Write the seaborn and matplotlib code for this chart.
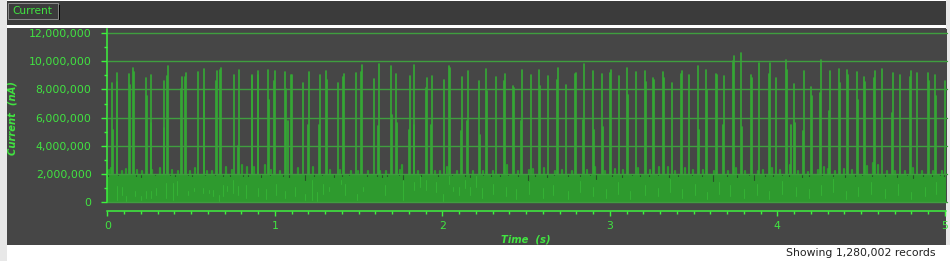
import numpy as np
import pandas as pd
import matplotlib
matplotlib.use("Agg")
import matplotlib.pyplot as plt
import seaborn as sns
from matplotlib.patches import Rectangle
from matplotlib.ticker import FuncFormatter, MultipleLocator

# ---------------- data ----------------
series_name = "Current"
x_label = "Time  (s)"
y_label = "Current  (nA)"
status_text = "Showing 1,280,002 records"
x_ticks = [0, 1, 2, 3, 4, 5]
y_ticks = [0, 2_000_000, 4_000_000, 6_000_000, 8_000_000, 10_000_000, 12_000_000]

# level of the dense noise band (nA)
band_level = 2_000_000

# spike lines: time (s), peak (millions of nA)
spike_t = [0.0300, 0.0340, 0.0559, 0.0599, 0.1315, 0.1355, 0.1554, 0.1594, 0.2330, 0.2370,
           0.2589, 0.2629, 0.3365, 0.3405, 0.3564, 0.3644, 0.4400, 0.4440, 0.4639, 0.4699,
           0.5435, 0.5754, 0.5793, 0.6509, 0.6569, 0.6748, 0.6808, 0.7584, 0.7823, 0.7882,
           0.8619, 0.8659, 0.8977, 0.9017, 0.9614, 0.9654, 0.9972, 1.0032, 1.0629, 1.0688,
           1.0788, 1.0987, 1.1047, 1.1703, 1.2002, 1.2061, 1.2658, 1.2718, 1.3057, 1.3136,
           1.3793, 1.4091, 1.4151, 1.4867, 1.5166, 1.5226, 1.5942, 1.6181, 1.6241,
           1.6957, 1.6977, 1.7256, 1.7315, 1.8032, 1.8091, 1.8291, 1.8330, 1.9047, 1.9106,
           1.9345, 1.9405, 2.0121, 2.0420, 2.0479, 2.1136, 2.1196, 2.1475, 2.1534, 2.2211,
           2.2270, 2.2629, 2.2688, 2.3226, 2.3703, 2.3763, 2.4221, 2.4281, 2.4718, 2.4778,
           2.5315, 2.5793, 2.5852, 2.6330, 2.6867, 2.6927, 2.7405, 2.7942, 2.8002, 2.8420,
           2.8480, 2.9017, 2.9076, 2.9554, 2.9614, 3.0032, 3.0091, 3.0569, 3.1047, 3.1106,
           3.1584, 3.2121, 3.2181, 3.2599, 3.2659, 3.3196, 3.3256,
           3.3733, 3.4270, 3.4330, 3.4748, 3.5285, 3.5325, 3.5763, 3.5822, 3.6360, 3.6419,
           3.6778, 3.6837, 3.7375, 3.7434, 3.7852, 3.7912, 3.8449, 3.8509, 3.8927, 3.9524,
           3.9584, 3.9942, 4.0539, 4.0599, 4.0838, 4.1017, 4.1077, 4.1554, 4.1614,
           4.2032, 4.2091, 4.2569, 4.2629, 4.3107, 4.3166, 4.3704, 4.3763, 4.4181, 4.4241,
           4.4778, 4.4838, 4.5196, 4.5256, 4.5793, 4.5853, 4.6271, 4.6867, 4.6927, 4.7345,
           4.7942, 4.8001, 4.8360, 4.9016, 4.9076, 4.9434, 4.9493, 5.0030]
spike_v = [8.46, 5.10, 8.53, 9.17, 9.10, 8.34, 9.52, 9.24, 8.82, 7.51,
           5.62, 9.05, 5.26, 8.63, 8.93, 9.69, 8.06, 8.86, 8.86, 9.17,
           9.24, 8.06, 9.45, 8.63, 9.34, 9.41, 9.52, 9.05, 3.96, 9.41,
           9.00, 8.93, 9.29, 9.00, 9.38, 7.27, 8.63, 9.29, 9.24, 8.06,
           5.73, 9.00, 9.00, 8.46, 5.50, 9.24, 5.50, 9.05, 9.29, 8.70,
           8.46, 8.86, 9.10, 9.17, 9.24, 9.72, 8.74, 5.38, 9.81,
           9.64, 6.20, 9.10, 5.60, 5.14, 8.93, 5.50, 9.72, 8.10, 8.82,
           5.50, 8.93, 8.70, 9.64, 9.52, 5.02, 8.86, 5.78, 9.29, 8.63,
           4.79, 9.45, 7.87, 8.86, 8.63, 9.10, 8.22, 8.10, 5.78, 9.41,
           9.00, 9.38, 8.22, 8.93, 8.70, 9.52, 8.29, 9.10, 9.17, 5.85,
           9.81, 9.34, 5.14, 9.10, 5.31, 9.17, 9.38, 8.93, 9.52, 7.63,
           9.24, 9.34, 8.53, 8.82, 8.70, 9.24, 8.82,
           8.46, 9.10, 9.29, 9.00, 9.64, 5.14, 9.38, 7.99, 9.10, 9.00,
           5.50, 8.93, 10.00, 10.38, 10.59, 5.31, 9.00, 8.82, 9.88, 9.10,
           9.88, 8.82, 10.10, 9.38, 5.50, 8.39, 5.62, 5.02, 9.34,
           8.15, 7.51, 7.75, 10.10, 6.45, 9.29, 9.45, 8.46, 9.38, 9.05,
           9.24, 7.27, 8.86, 8.53, 8.82, 9.29, 9.45, 6.33, 9.17, 9.05,
           8.86, 9.29, 9.17, 9.17, 8.58, 9.05, 7.51, 8.63]

# bumps poking above the noise band: time (s), top (millions of nA)
bump_t = [0.002, 0.010, 0.022, 0.086, 0.110, 0.177, 0.209, 0.269, 0.315, 0.384, 0.424, 0.494,
          0.524, 0.593, 0.623, 0.707, 0.743, 0.802,
          0.832, 0.878, 0.941, 0.977, 1.031, 1.140, 1.230, 1.330, 1.389, 1.455, 1.499, 1.558, 1.628,
          1.662, 1.747, 1.761, 1.857, 1.956, 1.986, 2.030, 2.086, 2.185, 2.245, 2.304, 2.384, 2.454,
          2.518, 2.543, 2.609, 2.673, 2.713, 2.773, 2.862, 2.912, 2.971, 3.031, 3.081, 3.170, 3.240, 3.294,
          3.346, 3.389, 3.449, 3.499, 3.558, 3.624, 3.704, 3.752, 3.807, 3.883, 3.917, 3.967, 4.016,
          4.076, 4.126,
          4.181, 4.245, 4.281, 4.305, 4.345, 4.400, 4.444, 4.534, 4.570, 4.603, 4.653, 4.703, 4.762,
          4.812, 4.862, 4.931, 4.982]
bump_v = [2.23, 2.30, 2.42, 2.23, 2.37, 2.30, 2.23, 2.30, 2.42, 2.30, 2.23, 2.23,
          2.42, 2.23, 2.18, 2.46, 2.30, 2.60,
          2.46, 2.46, 2.65, 2.30, 2.23, 2.42, 2.46, 2.30, 2.30, 2.23, 2.18, 2.23, 2.23,
          2.23, 2.30, 2.60, 2.18, 2.23, 2.23, 2.46, 2.23, 2.23, 2.18, 2.18, 2.60, 2.18,
          2.30, 2.37, 2.42, 2.18, 2.30, 2.23, 2.30, 2.46, 2.23, 2.37, 2.30, 2.42, 2.30, 2.46,
          2.46, 2.23, 2.42, 2.30, 2.30, 2.23, 2.23, 2.42, 2.18, 2.23, 2.30, 2.42, 2.30,
          2.65, 2.23,
          2.13, 2.30, 2.46, 2.37, 2.23, 2.37, 2.30, 2.54, 2.77, 2.65, 2.18, 2.18, 2.23,
          2.42, 2.18, 2.23, 2.18]

# dark gaps reaching down into the band: time (s), bottom (millions of nA)
notch_t = [0.002, 0.063, 0.169, 0.201, 0.285, 0.374, 0.404, 0.484, 0.508, 0.583, 0.643, 0.692,
           0.734, 0.812, 0.842, 0.918, 0.971, 1.051, 1.085, 1.181, 1.236, 1.284, 1.356, 1.400,
           1.443, 1.549, 1.609, 1.639, 1.668, 1.741, 1.767, 1.873, 1.973, 2.056, 2.136, 2.166,
           2.240, 2.291, 2.345, 2.391, 2.451, 2.510, 2.554, 2.624, 2.669, 2.753, 2.823, 2.882,
           2.916, 3.016, 3.072, 3.131, 3.181, 3.231, 3.286, 3.353, 3.405, 3.493, 3.548, 3.618,
           3.698, 3.757, 3.831, 3.863, 3.926, 3.976, 4.026, 4.070, 4.145, 4.189, 4.269, 4.334,
           4.404, 4.464, 4.508, 4.563, 4.643, 4.713, 4.772, 4.812, 4.872, 4.922, 4.971, 4.998]
notch_v = [1.82, 1.90, 1.82, 1.75, 1.90, 1.90, 1.85, 1.90, 1.82, 1.90, 1.90, 1.82,
           1.82, 1.82, 1.85, 1.80, 1.90, 1.85, 1.80, 1.59, 1.85, 1.90, 1.80, 1.85,
           1.90, 1.82, 1.85, 1.75, 1.85, 1.90, 1.59, 1.85, 1.82, 1.90, 1.85, 1.80,
           1.90, 1.85, 1.82, 1.90, 1.85, 1.59, 1.85, 1.80, 1.90, 1.82, 1.85, 1.90,
           1.66, 1.85, 1.80, 1.90, 1.85, 1.82, 1.90, 1.80, 1.85, 1.90, 1.82, 1.52,
           1.85, 1.80, 1.90, 1.59, 1.85, 1.82, 1.90, 1.85, 1.80, 1.85, 1.90, 1.82,
           1.80, 1.85, 1.90, 1.82, 1.85, 1.80, 1.90, 1.71, 1.85, 1.82, 1.90, 1.85]

# lighter streaks inside the band: time (s), bottom and top (millions of nA)
bright_t = [0.055, 0.085, 0.110, 0.167, 0.203, 0.229, 0.262, 0.292, 0.352, 0.390, 0.419, 0.453,
            0.484, 0.516, 0.574, 0.610, 0.634, 0.667, 0.691, 0.717, 0.750, 0.783, 0.830, 0.900,
            0.950, 1.010, 1.060, 1.120, 1.180, 1.220, 1.254, 1.290, 1.326, 1.393, 1.419, 1.493,
            1.529, 1.658, 1.764, 1.831, 1.867, 1.903, 1.963, 2.003, 2.037, 2.066, 2.102, 2.136,
            2.166, 2.202, 2.238, 2.305, 2.380, 2.440, 2.520, 2.600, 2.660, 2.750, 2.820, 2.900,
            2.980, 3.050, 3.120, 3.210, 3.290, 3.360, 3.430, 3.510, 3.580, 3.650, 3.720, 3.800,
            3.880, 3.950, 4.030, 4.110, 4.190, 4.260, 4.330, 4.410, 4.480, 4.560, 4.640, 4.720,
            4.800, 4.880, 4.950]
bright_lo = [0.17, 0.52, 0.05, 0.40, 0.17, 0.28, 0.28, 0.52, 0.28, 0.17, 0.50, 0.52,
             0.52, 0.76, 0.64, 0.64, 0.40, 0.05, 0.40, 0.76, 0.64, 0.52, 0.30, 0.40,
             0.20, 0.50, 0.30, 0.45, 0.14, 0.14, 0.10, 0.55, 0.80, 1.27, 0.50, 0.14,
             0.80, 0.50, 0.14, 0.85, 1.10, 0.85, 0.70, 0.10, 1.27, 0.80, 0.50, 1.00,
             0.50, 1.10, 0.30, 0.55, 0.40, 0.20, 0.60, 0.30, 0.50, 0.20, 0.70, 0.40,
             0.30, 0.60, 0.20, 0.50, 0.40, 0.70, 0.30, 0.50, 0.20, 0.60, 0.40, 0.30,
             0.50, 0.20, 0.60, 0.40, 0.30, 0.50, 0.70, 0.20, 0.40, 0.60, 0.30, 0.50,
             0.20, 0.40, 0.60]
bright_hi = [1.11, 1.04, 0.40, 0.76, 0.40, 0.76, 0.76, 1.00, 1.33, 1.33, 1.50, 0.52,
             0.76, 1.00, 1.00, 0.88, 0.88, 0.52, 1.23, 1.11, 1.59, 1.11, 1.20, 1.00,
             0.90, 1.30, 0.80, 1.10, 0.56, 1.56, 0.70, 1.27, 1.10, 1.56, 1.27, 0.56,
             1.10, 1.20, 1.56, 1.42, 1.84, 1.56, 1.40, 0.56, 1.84, 1.10, 1.10, 1.56,
             1.10, 1.84, 1.00, 1.30, 1.10, 0.90, 1.40, 1.00, 1.20, 0.80, 1.50, 1.10,
             0.90, 1.40, 0.80, 1.20, 1.00, 1.60, 0.90, 1.30, 0.70, 1.40, 1.20, 0.90,
             1.30, 0.80, 1.50, 1.10, 0.90, 1.20, 1.60, 0.80, 1.10, 1.40, 0.90, 1.30,
             0.70, 1.10, 1.40]

# ---------------- styling ----------------
sns.set_theme(style="dark")
plt.rcParams["font.family"] = ["DejaVu Sans"]

PANEL = "#464646"
HEADER = "#3b3b3b"
GREEN = "#3df23d"
TXTGREEN = "#41e441"
BAND = "#2e9a2e"
SPIKE = "#34aa34"
GRID = "#3f9e3f"
BRIGHT = "#35b235"
MILLION = 1_000_000

W, H = 950, 261
fig = plt.figure(figsize=(W / 100, H / 100), dpi=100)
fig.patch.set_facecolor("#ffffff")


def box(x0, y0, x1, y1, color, ec="none", lw=0, z=-10):
    fig.add_artist(Rectangle((x0 / W, 1 - y1 / H), (x1 - x0) / W, (y1 - y0) / H,
                             transform=fig.transFigure, facecolor=color,
                             edgecolor=ec, lw=lw, zorder=z))


box(0, 0, 7, H, "#e8e8e8")
box(946, 0, W, 245, "#e8e8e8")
box(7, 1, 946, 25, HEADER)
box(7, 28, 946, 245, PANEL)
# series button
box(9, 5, 60, 20, "#000000", z=-9)
box(7.5, 3.5, 57.5, 18.5, HEADER, ec="#9a9a9a", lw=0.6, z=-8)
fig.text(12 / W, 1 - 11.5 / H, series_name, color=TXTGREEN, fontsize=7.6,
         ha="left", va="center")

ax = fig.add_axes([107.3 / W, 1 - 202 / H, 839.2 / W, 173 / H])
ax.set_zorder(1)
ax.set_facecolor(PANEL)

# noise band
ax.fill_between([0, 5.01], 0, band_level, color=BAND, lw=0, zorder=1)


def segments(ts, lo, hi):
    rows = []
    for i, (t, a, b) in enumerate(zip(ts, lo, hi)):
        rows.append({"t": t, "v": a, "id": i})
        rows.append({"t": t, "v": b, "id": i})
    return pd.DataFrame(rows)


df_notch = segments(notch_t, [v * MILLION for v in notch_v], [band_level] * len(notch_t))
sns.lineplot(data=df_notch, x="t", y="v", units="id", estimator=None, sort=False,
             color="#2a4f2a", lw=0.8, ax=ax, zorder=1.2, legend=False)

df_bright = segments(bright_t, [v * MILLION for v in bright_lo], [v * MILLION for v in bright_hi])
sns.lineplot(data=df_bright, x="t", y="v", units="id", estimator=None, sort=False,
             color=BRIGHT, lw=0.7, ax=ax, zorder=1.3, legend=False)

df_bump = segments(bump_t, [band_level] * len(bump_t), [v * MILLION for v in bump_v])
sns.lineplot(data=df_bump, x="t", y="v", units="id", estimator=None, sort=False,
             color=BAND, lw=1.6, ax=ax, zorder=1.4, legend=False)

df_spike = segments(spike_t, [band_level] * len(spike_t), [v * MILLION for v in spike_v])
sns.lineplot(data=df_spike, x="t", y="v", units="id", estimator=None, sort=False,
             color=SPIKE, lw=1.2, ax=ax, zorder=1.5, legend=False)

ax.set_xlim(0, 5.01)
ax.set_ylim(0, 12.3 * MILLION)
ax.set_xticks(x_ticks)
ax.set_yticks(y_ticks)
ax.xaxis.set_minor_locator(MultipleLocator(0.1))
ax.yaxis.set_minor_locator(MultipleLocator(MILLION))
ax.yaxis.set_major_formatter(FuncFormatter(lambda v, p: f"{v:,.0f}"))
ax.xaxis.set_major_formatter(FuncFormatter(lambda v, p: f"{v:g}"))

ax.set_axisbelow(False)
ax.yaxis.grid(True, which="major", color=GRID, lw=1.0)
ax.xaxis.grid(False)
for gl in ax.yaxis.get_gridlines():
    gl.set_clip_on(False)

for s in ("top", "right"):
    ax.spines[s].set_visible(False)
ax.spines["left"].set_color(GREEN)
ax.spines["left"].set_linewidth(1.1)
ax.spines["bottom"].set_color(GREEN)
ax.spines["bottom"].set_linewidth(1.1)
ax.spines["bottom"].set_position(("outward", 6.5))

ax.tick_params(axis="y", which="major", direction="out", length=4.3, width=1.0,
               color=GREEN, labelcolor=TXTGREEN, labelsize=7.8, pad=7, left=True)
ax.tick_params(axis="y", which="minor", direction="out", length=2.2, width=1.0,
               color=GREEN, left=True)
ax.tick_params(axis="x", which="major", direction="out", length=3.6, width=1.0,
               color=GREEN, labelcolor=TXTGREEN, labelsize=7.8, pad=3.5, bottom=True)
ax.tick_params(axis="x", which="minor", direction="out", length=2.2, width=1.0,
               color=GREEN, bottom=True)
ax.set_xlabel("")
ax.set_ylabel("")

fig.text(526 / W, 1 - 240 / H, x_label, color=TXTGREEN, fontsize=7.2,
         fontweight="bold", fontstyle="italic", ha="center", va="center")
fig.text(13 / W, 1 - 118 / H, y_label, color=TXTGREEN, fontsize=7.2, rotation=90,
         fontweight="bold", fontstyle="italic", ha="center", va="center")
fig.text(935 / W, 1 - 253 / H, status_text, color="#222222", fontsize=7.8,
         ha="right", va="center")

fig.savefig("out.png", dpi=100, facecolor=fig.get_facecolor())
